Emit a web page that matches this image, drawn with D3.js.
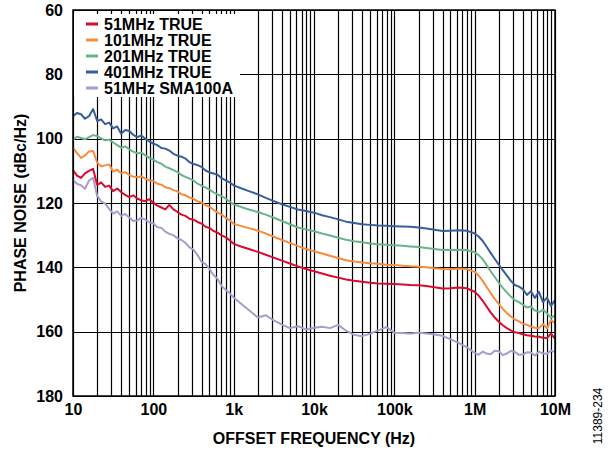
<!DOCTYPE html>
<html>
<head>
<meta charset="utf-8">
<script src="https://cdn.jsdelivr.net/npm/d3@7"></script>
<style>
  body { margin: 0; background: #fff; }
  text { font-family: Arial, "Liberation Sans", sans-serif; }
</style>
</head>
<body>
<script>
// offset frequency grid (Hz): 20 points per decade where the traces are noisy, 10 elsewhere
const freq = [
  10, 11.2, 12.6, 14.1, 15.8, 17.8, 20, 22.4, 25.1, 28.2,
  31.6, 35.5, 39.8, 44.7, 50.1, 56.2, 63.1, 70.8, 79.4, 89.1,
  100, 112, 126, 141, 158, 178, 200, 224, 251, 282,
  316, 355, 398, 447, 501, 562, 631, 708, 794, 891,
  1e3, 1260, 1580, 2000, 2510, 3160, 3980, 5010, 6310, 7940,
  1e4, 12600, 15800, 20000, 25100, 31600, 39800, 50100, 63100, 79400,
  1e5, 126000, 158000, 200000, 251000, 316000, 398000, 501000, 631000, 794000,
  1e6, 1.12e6, 1.26e6, 1.41e6, 1.58e6, 1.78e6, 2e6, 2.24e6, 2.51e6, 2.82e6,
  3.16e6, 3.55e6, 3.98e6, 4.47e6, 5.01e6, 5.62e6, 6.31e6, 7.08e6, 7.94e6, 8.91e6, 1e7
];

// phase noise, dBc/Hz (plotted as positive numbers)
const pn51 = [
  109.8, 111.5, 112.2, 110.8, 110.0, 109.4, 114.4, 113.6, 115.0, 114.6,
  116.3, 115.5, 116.6, 117.5, 118.2, 117.6, 118.6, 119.2, 119.4, 118.8,
  119.9, 120.8, 121.4, 122.0, 120.6, 122.0, 122.8, 123.6, 124.0, 124.9,
  125.2, 125.9, 126.4, 127.4, 127.8, 128.7, 129.2, 130.1, 130.6, 131.6,
  132.7, 133.6, 134.4, 135.2, 136.1, 137.0, 137.9, 138.8, 139.7, 140.5,
  141.2, 141.9, 142.6, 143.2, 143.8, 144.2, 144.5, 144.8, 145.0, 145.1,
  145.2, 145.3, 145.5, 145.6, 145.8, 146.2, 146.6, 146.5, 146.3, 146.5,
  147.6, 148.8, 150.4, 152.2, 154.0, 155.6, 156.9, 158.0, 158.9, 159.6,
  160.2, 160.4, 160.8, 161.1, 161.3, 161.5, 161.6, 161.9, 162.0, 160.6, 162.2
];
const pn101 = [
  102.8, 104.5, 106.0, 105.2, 104.0, 103.8, 107.5, 108.6, 108.3, 108.0,
  110.2, 109.6, 110.8, 110.4, 111.3, 111.8, 112.0, 111.7, 112.4, 113.0,
  113.2, 114.0, 114.3, 115.1, 115.4, 116.0, 116.4, 117.3, 117.6, 118.3,
  118.7, 119.5, 119.9, 120.7, 121.2, 122.1, 123.0, 123.6, 124.6, 125.4,
  126.5, 127.2, 127.9, 128.6, 129.5, 130.5, 131.5, 132.4, 133.4, 134.3,
  135.0, 135.7, 136.4, 137.1, 137.8, 138.2, 138.5, 138.7, 138.9, 139.2,
  139.3, 139.5, 139.7, 139.8, 140.0, 140.3, 140.5, 140.6, 140.4, 140.5,
  141.4, 142.6, 144.2, 146.1, 148.0, 149.8, 151.4, 152.9, 154.2, 155.3,
  156.2, 156.8, 157.5, 157.9, 158.4, 158.8, 158.9, 157.6, 159.0, 156.4, 157.4
];
const pn201 = [
  100.3, 99.4, 99.8, 100.2, 99.5, 98.9, 99.2, 99.9, 100.5, 100.3,
  101.2, 102.0, 102.8, 102.4, 103.3, 104.0, 104.6, 104.3, 105.2, 106.0,
  106.5, 107.3, 107.8, 108.7, 109.2, 109.8, 110.4, 111.3, 111.9, 112.4,
  113.0, 114.0, 114.6, 115.2, 115.8, 116.7, 117.3, 117.9, 118.6, 119.6,
  120.4, 121.3, 122.1, 122.8, 123.6, 124.6, 125.6, 126.6, 127.6, 128.2,
  128.8, 129.5, 130.1, 130.8, 131.4, 131.9, 132.2, 132.6, 132.8, 133.0,
  133.1, 133.3, 133.5, 133.7, 134.0, 134.3, 134.6, 134.6, 134.5, 134.6,
  135.3, 136.2, 137.5, 139.3, 141.2, 143.0, 144.8, 146.4, 147.8, 149.1,
  150.2, 150.8, 151.6, 152.5, 152.2, 153.4, 153.9, 153.2, 154.3, 155.6, 155.0
];
const pn401 = [
  93.0, 92.0, 92.4, 93.8, 93.0, 90.8, 94.5, 94.0, 95.5, 95.0,
  96.8, 96.2, 98.5, 97.3, 97.6, 98.8, 99.5, 99.0, 100.0, 100.9,
  101.5, 102.0, 102.9, 103.1, 103.7, 104.7, 105.3, 105.6, 106.2, 107.3,
  107.9, 108.2, 108.8, 109.9, 110.5, 110.8, 111.2, 112.3, 113.0, 113.6,
  114.5, 115.5, 116.4, 117.3, 118.4, 119.4, 120.4, 121.2, 122.0, 122.5,
  123.0, 123.8, 124.4, 125.1, 125.8, 126.2, 126.6, 126.8, 127.0, 127.1,
  127.2, 127.3, 127.4, 127.6, 127.9, 128.3, 128.7, 128.6, 128.5, 128.6,
  129.5, 130.4, 131.8, 133.6, 135.5, 137.4, 139.2, 140.9, 142.5, 144.2,
  145.5, 146.0, 146.8, 148.6, 147.4, 149.5, 147.6, 150.8, 149.4, 152.0, 150.2
];
const pnSma = [
  112.8, 114.0, 114.5, 115.6, 113.0, 112.2, 117.8, 119.5, 120.2, 121.8,
  123.3, 122.6, 124.0, 123.4, 124.5, 125.6, 125.4, 124.6, 125.2, 126.0,
  126.3, 127.5, 127.8, 128.9, 129.6, 130.0, 131.0, 131.5, 132.4, 133.8,
  134.5, 136.2, 138.3, 139.0, 140.6, 142.4, 143.6, 145.8, 147.0, 148.0,
  149.4, 151.5, 153.5, 155.6, 154.9, 156.5, 157.8, 158.9, 158.3, 159.3,
  158.8, 158.5, 158.9, 157.9, 159.7, 161.0, 161.4, 160.6, 159.6, 158.6,
  160.3, 160.4, 160.6, 160.3, 160.6, 160.9, 161.3, 162.4, 163.5, 164.8,
  166.6, 167.2, 166.2, 166.8, 167.0, 165.9, 166.1, 167.3, 166.8, 166.0,
  166.3, 167.2, 167.1, 166.4, 166.5, 167.4, 166.2, 166.8, 166.9, 165.9, 166.3
];

const seriesNames = ["51MHz TRUE", "101MHz TRUE", "201MHz TRUE", "401MHz TRUE", "51MHz SMA100A"];
const seriesColors = ["#dc0a2e", "#f88c3c", "#68b48c", "#365f9c", "#a99bcd"];
const seriesValues = [pn51, pn101, pn201, pn401, pnSma];

const xTicks = [10, 100, 1e3, 1e4, 1e5, 1e6, 1e7];
const xTickLabels = ["10", "100", "1k", "10k", "100k", "1M", "10M"];
const yTicks = [60, 80, 100, 120, 140, 160, 180];

const W = 610, H = 452;
const plot = { left: 73, right: 555, top: 10, bottom: 396 };

const svg = d3.select("body").append("svg")
  .attr("width", W)
  .attr("height", H);

const x = d3.scaleLog().domain([10, 1e7]).range([plot.left, plot.right]);
const y = d3.scaleLinear().domain([60, 180]).range([plot.top, plot.bottom]);

// grid: every minor decade line, major dB lines only
const grid = svg.append("g")
  .attr("stroke", "#000")
  .attr("stroke-width", 1.2);

grid.selectAll("line.v")
  .data(x.ticks())
  .join("line")
  .attr("class", "v")
  .attr("x1", d => Math.round(x(d)) + 0.5)
  .attr("x2", d => Math.round(x(d)) + 0.5)
  .attr("y1", plot.top)
  .attr("y2", plot.bottom);

grid.selectAll("line.h")
  .data(yTicks)
  .join("line")
  .attr("class", "h")
  .attr("x1", plot.left)
  .attr("x2", plot.right)
  .attr("y1", d => Math.round(y(d)) + 0.5)
  .attr("y2", d => Math.round(y(d)) + 0.5);

// legend box hides the grid behind it
svg.append("rect")
  .attr("x", plot.left + 1)
  .attr("y", 14)
  .attr("width", 166)
  .attr("height", 83)
  .attr("fill", "#fff");

// curves
const line = d3.line()
  .x((d, i) => x(freq[i]))
  .y(d => y(d));

const curves = svg.append("g")
  .attr("fill", "none")
  .attr("stroke-width", 2)
  .attr("stroke-linejoin", "round");

seriesValues.slice().reverse().forEach((vals, k) => {
  const idx = seriesValues.length - 1 - k;
  curves.append("path")
    .attr("d", line(vals))
    .attr("stroke", seriesColors[idx]);
});

// frame
svg.append("rect")
  .attr("x", plot.left)
  .attr("y", plot.top)
  .attr("width", plot.right - plot.left)
  .attr("height", plot.bottom - plot.top)
  .attr("fill", "none")
  .attr("stroke", "#000")
  .attr("stroke-width", 1.5);

// axes
const xAxis = d3.axisBottom(x)
  .tickValues(xTicks)
  .tickFormat((d, i) => xTickLabels[i])
  .tickSize(0)
  .tickPadding(8);

svg.append("g")
  .attr("transform", "translate(0," + plot.bottom + ")")
  .call(xAxis)
  .call(g => g.select(".domain").remove())
  .selectAll("text")
  .attr("font-family", "Arial, 'Liberation Sans', sans-serif")
  .attr("font-size", 16)
  .attr("font-weight", "bold")
  .attr("fill", "#000");

const yAxis = d3.axisLeft(y)
  .tickValues(yTicks)
  .tickSize(0)
  .tickPadding(10);

svg.append("g")
  .attr("transform", "translate(" + plot.left + ",0)")
  .call(yAxis)
  .call(g => g.select(".domain").remove())
  .selectAll("text")
  .attr("font-family", "Arial, 'Liberation Sans', sans-serif")
  .attr("font-size", 16)
  .attr("font-weight", "bold")
  .attr("fill", "#000");

// titles
svg.append("text")
  .attr("x", (plot.left + plot.right) / 2)
  .attr("y", 444)
  .attr("text-anchor", "middle")
  .attr("font-size", 16)
  .attr("font-weight", "bold")
  .text("OFFSET FREQUENCY (Hz)");

svg.append("text")
  .attr("transform", "translate(26," + (plot.top + plot.bottom) / 2 + ") rotate(-90)")
  .attr("text-anchor", "middle")
  .attr("font-size", 16)
  .attr("font-weight", "bold")
  .text("PHASE NOISE (dBc/Hz)");

svg.append("text")
  .attr("transform", "translate(602,416) rotate(-90)")
  .attr("text-anchor", "middle")
  .attr("font-size", 12)
  .text("11389-234");

// legend
const legend = svg.append("g");
seriesNames.forEach((name, i) => {
  const ly = 24 + i * 16;
  legend.append("line")
    .attr("x1", 86)
    .attr("x2", 98)
    .attr("y1", ly)
    .attr("y2", ly)
    .attr("stroke", seriesColors[i])
    .attr("stroke-width", 3);
  legend.append("text")
    .attr("x", 104)
    .attr("y", ly)
    .attr("dy", "0.36em")
    .attr("font-size", 16)
    .attr("font-weight", "bold")
    .text(name);
});
</script>
</body>
</html>
